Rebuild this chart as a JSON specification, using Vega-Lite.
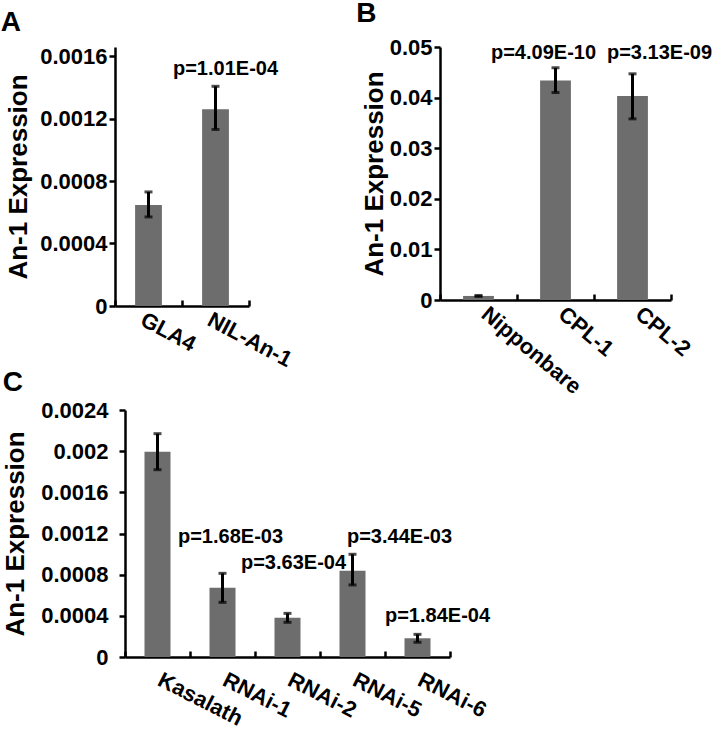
{
  "$schema": "https://vega.github.io/schema/vega-lite/v6.json",
  "padding": {"left": 0, "top": 0, "right": 0, "bottom": 0},
  "background": "white",
  "config": {
    "font": "Liberation Sans",
    "view": {"stroke": null},
    "title": {"fontSize": 28, "fontWeight": "bold", "anchor": "start", "frame": "bounds", "color": "black"},
    "axis": {
      "domainColor": "black", "domainWidth": 2.5, "tickColor": "black", "tickWidth": 2.5,
      "labelFont": "Liberation Sans", "labelFontWeight": "bold", "labelFontSize": 22, "labelColor": "black",
      "titleFont": "Liberation Sans", "titleFontWeight": "bold", "titleFontSize": 26, "titleColor": "black",
      "grid": false
    }
  },
  "vconcat": [
    {
      "hconcat": [
        {
          "title": {"text": "A", "offset": 11, "dx": -5, "dy": 3},
          "width": 134, "height": 259,
          "data": {"values": [
            {"g": "GLA4", "v": 0.000646, "lo": 0.00057, "hi": 0.00073, "p": ""},
            {"g": "NIL-An-1", "v": 0.00126, "lo": 0.00113, "hi": 0.001406, "p": "p=1.01E-04"}
          ]},
          "encoding": {
            "x": {"field": "g", "type": "nominal", "sort": null,
              "scale": {"paddingInner": 0, "paddingOuter": 0},
              "axis": {"title": null, "labelAngle": 28, "labelAlign": "left", "labelBaseline": "top", "tickBand": "extent", "tickSize": -6, "labelPadding": 9, "labelOffset": -2}}
          },
          "layer": [
            {"mark": {"type": "bar", "color": "#6d6d6d", "width": {"band": 0.4}},
             "encoding": {"y": {"field": "v", "type": "quantitative",
               "scale": {"domain": [0, 0.0016576], "nice": false},
               "axis": {"values": [0, 0.0004, 0.0008, 0.0012, 0.0016], "format": "~g", "tickSize": 6, "labelPadding": 2, "title": "An-1 Expression", "titlePadding": 8}}}},
            {"mark": {"type": "rule", "color": "black", "strokeWidth": 3},
             "encoding": {"y": {"field": "lo", "type": "quantitative"}, "y2": {"field": "hi"}}},
            {"mark": {"type": "tick", "color": "black", "thickness": 3, "size": 8},
             "encoding": {"y": {"field": "lo", "type": "quantitative"}}},
            {"mark": {"type": "tick", "color": "black", "thickness": 3, "size": 8},
             "encoding": {"y": {"field": "hi", "type": "quantitative"}}},
            {"mark": {"type": "text", "font": "Liberation Sans", "fontWeight": "bold", "fontSize": 20, "dx": 10, "baseline": "middle"},
             "encoding": {"y": {"datum": 0.00152, "type": "quantitative"}, "text": {"field": "p"}}}
          ]
        },
        {
          "title": {"text": "B", "offset": 11, "dx": -5, "dy": 3},
          "width": 231, "height": 253,
          "data": {"values": [
            {"g": "Nipponbare", "v": 0.0008, "lo": 0.0007, "hi": 0.0009, "p": ""},
            {"g": "CPL-1", "v": 0.0434, "lo": 0.041, "hi": 0.0459, "p": "p=4.09E-10"},
            {"g": "CPL-2", "v": 0.0403, "lo": 0.0358, "hi": 0.0447, "p": "p=3.13E-09"}
          ]},
          "encoding": {
            "x": {"field": "g", "type": "nominal", "sort": null,
              "scale": {"paddingInner": 0, "paddingOuter": 0},
              "axis": {"title": null, "labelAngle": 40, "labelAlign": "left", "labelBaseline": "top", "tickBand": "extent", "tickSize": -6, "labelPadding": 9, "labelOffset": 12}}
          },
          "layer": [
            {"mark": {"type": "bar", "color": "#6d6d6d", "width": {"band": 0.4}},
             "encoding": {"y": {"field": "v", "type": "quantitative",
               "scale": {"domain": [0, 0.05], "nice": false},
               "axis": {"values": [0, 0.01, 0.02, 0.03, 0.04, 0.05], "format": "~g", "tickSize": 6, "labelPadding": 2, "title": "An-1 Expression", "titlePadding": 2}}}},
            {"mark": {"type": "rule", "color": "black", "strokeWidth": 3},
             "encoding": {"y": {"field": "lo", "type": "quantitative"}, "y2": {"field": "hi"}}},
            {"mark": {"type": "tick", "color": "black", "thickness": 3, "size": 8},
             "encoding": {"y": {"field": "lo", "type": "quantitative"}}},
            {"mark": {"type": "tick", "color": "black", "thickness": 3, "size": 8},
             "encoding": {"y": {"field": "hi", "type": "quantitative"}}},
            {"transform": [{"filter": "datum.g == 'CPL-1'"}],
             "mark": {"type": "text", "font": "Liberation Sans", "fontWeight": "bold", "fontSize": 20, "dx": -12, "baseline": "middle"},
             "encoding": {"y": {"datum": 0.0488, "type": "quantitative"}, "text": {"field": "p"}}},
            {"transform": [{"filter": "datum.g == 'CPL-2'"}],
             "mark": {"type": "text", "font": "Liberation Sans", "fontWeight": "bold", "fontSize": 20, "dx": 27, "baseline": "middle"},
             "encoding": {"y": {"datum": 0.0488, "type": "quantitative"}, "text": {"field": "p"}}}
          ]
        }
      ],
      "spacing": 61
    },
    {
      "hconcat": [
        {"width": 1, "height": 1, "data": {"values": []}, "mark": "point"},
        {
          "title": {"text": "C", "offset": 2},
          "width": 325, "height": 247,
          "data": {"values": [
            {"g": "Kasalath", "v": 0.001995, "lo": 0.00182, "hi": 0.00217, "p": "", "py": 0},
            {"g": "RNAi-1", "v": 0.000673, "lo": 0.000531, "hi": 0.000813, "p": "p=1.68E-03", "py": 0.00117},
            {"g": "RNAi-2", "v": 0.000382, "lo": 0.000337, "hi": 0.000424, "p": "p=3.63E-04", "py": 0.00091},
            {"g": "RNAi-5", "v": 0.000839, "lo": 0.0007, "hi": 0.000998, "p": "p=3.44E-03", "py": 0.00117},
            {"g": "RNAi-6", "v": 0.000182, "lo": 0.000143, "hi": 0.00022, "p": "p=1.84E-04", "py": 0.00040}
          ]},
          "encoding": {
            "x": {"field": "g", "type": "nominal", "sort": null,
              "scale": {"paddingInner": 0, "paddingOuter": 0},
              "axis": {"title": null, "labelAngle": 27, "labelAlign": "left", "labelBaseline": "top", "tickBand": "extent", "tickSize": -6, "labelPadding": 18, "labelOffset": 6}}
          },
          "layer": [
            {"mark": {"type": "bar", "color": "#6d6d6d", "width": {"band": 0.4}},
             "encoding": {"y": {"field": "v", "type": "quantitative",
               "scale": {"domain": [0, 0.0024], "nice": false},
               "axis": {"values": [0, 0.0004, 0.0008, 0.0012, 0.0016, 0.002, 0.0024], "format": "~g", "tickSize": 6, "labelPadding": 11, "title": "An-1 Expression", "titlePadding": 12}}}},
            {"mark": {"type": "rule", "color": "black", "strokeWidth": 3},
             "encoding": {"y": {"field": "lo", "type": "quantitative"}, "y2": {"field": "hi"}}},
            {"mark": {"type": "tick", "color": "black", "thickness": 3, "size": 8},
             "encoding": {"y": {"field": "lo", "type": "quantitative"}}},
            {"mark": {"type": "tick", "color": "black", "thickness": 3, "size": 8},
             "encoding": {"y": {"field": "hi", "type": "quantitative"}}},
            {"transform": [{"filter": "datum.g == 'RNAi-1'"}],
             "mark": {"type": "text", "font": "Liberation Sans", "fontWeight": "bold", "fontSize": 20, "dx": 8, "baseline": "middle"},
             "encoding": {"y": {"field": "py", "type": "quantitative"}, "text": {"field": "p"}}},
            {"transform": [{"filter": "datum.g == 'RNAi-2'"}],
             "mark": {"type": "text", "font": "Liberation Sans", "fontWeight": "bold", "fontSize": 20, "dx": 6, "baseline": "middle"},
             "encoding": {"y": {"field": "py", "type": "quantitative"}, "text": {"field": "p"}}},
            {"transform": [{"filter": "datum.g == 'RNAi-5'"}],
             "mark": {"type": "text", "font": "Liberation Sans", "fontWeight": "bold", "fontSize": 20, "dx": 47, "baseline": "middle"},
             "encoding": {"y": {"field": "py", "type": "quantitative"}, "text": {"field": "p"}}},
            {"transform": [{"filter": "datum.g == 'RNAi-6'"}],
             "mark": {"type": "text", "font": "Liberation Sans", "fontWeight": "bold", "fontSize": 20, "dx": 20, "baseline": "middle"},
             "encoding": {"y": {"field": "py", "type": "quantitative"}, "text": {"field": "p"}}}
          ]
        }
      ],
      "spacing": -114
    }
  ],
  "spacing": -29
}
